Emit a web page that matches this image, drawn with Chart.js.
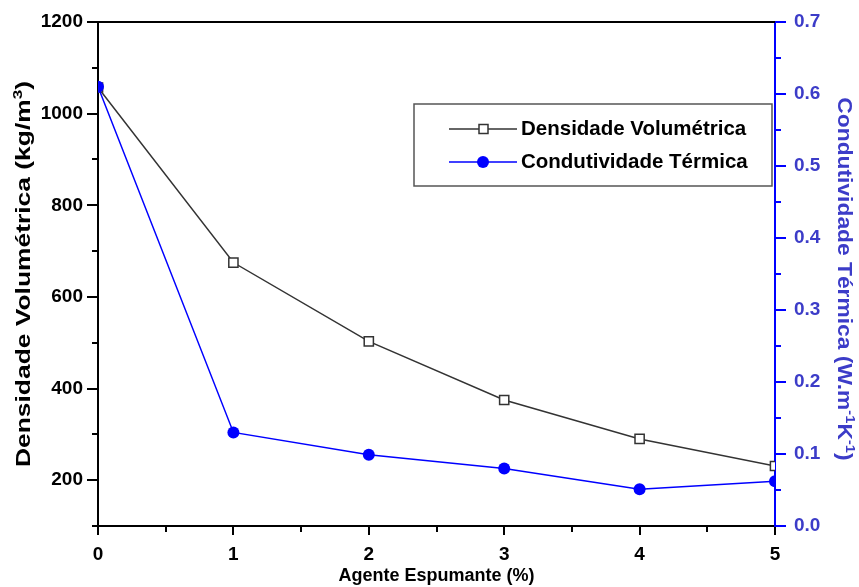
<!DOCTYPE html>
<html>
<head>
<meta charset="utf-8">
<title>Densidade e Condutividade</title>
<script src="https://cdn.jsdelivr.net/npm/chart.js@4/dist/chart.umd.min.js"></script>
<style>
  html, body { margin: 0; padding: 0; background: #fff; }
  canvas { display: block; }
</style>
</head>
<body>
<canvas id="c" width="859" height="587"></canvas>
<script>
// Foaming agent content (%)
const agente = [0, 1, 2, 3, 4, 5];
// Bulk density (kg/m³)
const densidade = [1057, 675, 503, 375, 290, 231];
// Thermal conductivity (W.m-1K-1)
const condutividade = [0.61, 0.13, 0.099, 0.08, 0.051, 0.062];

// Axis tick labels
const xTicks = [0, 1, 2, 3, 4, 5];
const yLeftTicks = [200, 400, 600, 800, 1000, 1200];
const yRightTicks = [0.0, 0.1, 0.2, 0.3, 0.4, 0.5, 0.6, 0.7];

// Vertical axis titles as [text, isSuperscript] runs
const yLeftTitle = [['Densidade Volumétrica (kg/m', 0], ['3', 1], [')', 0]];
const yRightTitle = [['Condutividade Térmica (W.m', 0], ['-1', 1], ['K', 0], ['-1', 1], [')', 0]];

const FONT = 'Arial, "Liberation Sans", sans-serif';
const BLUE = '#0000ff';
const BLUE_TEXT = '#3c3cc8';

const midpoints = arr => arr.slice(1).map((v, i) => (v + arr[i]) / 2);
const runsText = runs => runs.map(r => r[0]).join('');

// Minor ticks between the labelled ones, plus a frame line on top
const minorTicks = {
  id: 'minorTicks',
  afterDraw(chart) {
    const ctx = chart.ctx;
    const a = chart.chartArea;
    ctx.save();
    ctx.lineWidth = 2;
    ctx.strokeStyle = '#000';
    ctx.beginPath();
    ctx.moveTo(a.left - 1, a.top);
    ctx.lineTo(a.right, a.top);
    ctx.stroke();
    const xs = chart.scales.x;
    midpoints(xTicks).forEach(v => {
      const p = Math.round(xs.getPixelForValue(v));
      ctx.beginPath(); ctx.moveTo(p, a.bottom); ctx.lineTo(p, a.bottom + 6); ctx.stroke();
    });
    const yl = chart.scales.y;
    [100].concat(midpoints(yLeftTicks)).forEach(v => {
      const p = Math.round(yl.getPixelForValue(v));
      ctx.beginPath(); ctx.moveTo(a.left, p); ctx.lineTo(a.left - 6, p); ctx.stroke();
    });
    ctx.strokeStyle = BLUE;
    const yr = chart.scales.y2;
    midpoints(yRightTicks).forEach(v => {
      const p = Math.round(yr.getPixelForValue(v));
      ctx.beginPath(); ctx.moveTo(a.right, p); ctx.lineTo(a.right + 6, p); ctx.stroke();
    });
    ctx.restore();
  }
};

// Rotated axis titles with real superscripts, drawn tall along the axis
function drawRuns(ctx, runs, size, stretch, color) {
  const big = 'bold ' + size + 'px ' + FONT;
  const small = 'bold ' + Math.round(size * 0.65) + 'px ' + FONT;
  let total = 0;
  runs.forEach(r => { ctx.font = r[1] ? small : big; total += ctx.measureText(r[0]).width; });
  ctx.scale(stretch, 1);
  ctx.fillStyle = color;
  ctx.textBaseline = 'alphabetic';
  ctx.textAlign = 'left';
  let x = -total / 2;
  const base = size * 0.36;
  runs.forEach(r => {
    ctx.font = r[1] ? small : big;
    ctx.fillText(r[0], x, r[1] ? base - size * 0.42 : base);
    x += ctx.measureText(r[0]).width;
  });
}

const axisTitles = {
  id: 'axisTitles',
  afterDraw(chart) {
    const ctx = chart.ctx;
    const a = chart.chartArea;
    const cy = (a.top + a.bottom) / 2;
    ctx.save();
    ctx.translate(23, cy);
    ctx.rotate(-Math.PI / 2);
    drawRuns(ctx, yLeftTitle, 20, 1.32, '#000');
    ctx.restore();
    ctx.save();
    ctx.translate(845, cy + 5);
    ctx.rotate(Math.PI / 2);
    drawRuns(ctx, yRightTitle, 20, 1.14, BLUE_TEXT);
    ctx.restore();
  }
};

// Boxed legend with line + marker samples
const boxLegend = {
  id: 'boxLegend',
  afterDraw(chart) {
    const ctx = chart.ctx;
    const ds = chart.data.datasets;
    const box = { x: 414, y: 104, w: 358, h: 82 };
    ctx.save();
    ctx.fillStyle = '#fff';
    ctx.fillRect(box.x, box.y, box.w, box.h);
    ctx.strokeStyle = '#555';
    ctx.lineWidth = 1.5;
    ctx.strokeRect(box.x, box.y, box.w, box.h);
    const rowY = [129, 162];
    ds.forEach((d, i) => {
      const y = rowY[i];
      ctx.strokeStyle = d.borderColor;
      ctx.lineWidth = 1.5;
      ctx.beginPath(); ctx.moveTo(449, y); ctx.lineTo(517, y); ctx.stroke();
      if (d.pointStyle === 'rect') {
        ctx.fillStyle = '#fff';
        ctx.fillRect(479, y - 4.5, 9, 9);
        ctx.strokeStyle = '#333';
        ctx.strokeRect(479, y - 4.5, 9, 9);
      } else {
        ctx.fillStyle = BLUE;
        ctx.beginPath(); ctx.arc(483, y, 6, 0, Math.PI * 2); ctx.fill();
      }
      ctx.fillStyle = '#000';
      ctx.font = 'bold 20.5px ' + FONT;
      ctx.textBaseline = 'middle';
      ctx.textAlign = 'left';
      ctx.fillText(d.label, 521, y);
    });
    ctx.restore();
  }
};

const setTicks = values => scale => { scale.ticks = values.map(v => ({ value: v })); };

new Chart(document.getElementById('c'), {
  type: 'line',
  data: {
    datasets: [
      {
        label: 'Densidade Volumétrica',
        data: agente.map((x, i) => ({ x: x, y: densidade[i] })),
        yAxisID: 'y',
        borderColor: '#333',
        borderWidth: 1.5,
        pointStyle: 'rect',
        pointRadius: 6.5,
        pointBackgroundColor: '#fff',
        pointBorderColor: '#333',
        pointBorderWidth: 1.5,
        tension: 0,
        clip: { left: 0, right: 0, top: false, bottom: false },
        order: 1
      },
      {
        label: 'Condutividade Térmica',
        data: agente.map((x, i) => ({ x: x, y: condutividade[i] })),
        yAxisID: 'y2',
        borderColor: BLUE,
        borderWidth: 1.5,
        pointStyle: 'circle',
        pointRadius: 6,
        pointBackgroundColor: BLUE,
        pointBorderColor: BLUE,
        pointBorderWidth: 0,
        tension: 0,
        clip: { left: 0, right: 0, top: false, bottom: false },
        order: 0
      }
    ]
  },
  options: {
    responsive: false,
    animation: false,
    devicePixelRatio: 1,
    layout: { padding: { top: 22, left: 0, right: 0, bottom: 0 } },
    plugins: { legend: { display: false }, tooltip: { enabled: false } },
    scales: {
      x: {
        type: 'linear',
        position: 'bottom',
        min: 0, max: 5,
        afterBuildTicks: setTicks(xTicks),
        afterFit: s => { s.height = 61; },
        grid: { display: true, drawOnChartArea: false, drawTicks: true, tickLength: 9, color: '#000', lineWidth: 2 },
        border: { display: true, color: '#000', width: 2 },
        ticks: { color: '#000', font: { family: FONT, size: 19, weight: 'bold' }, padding: 8, maxRotation: 0 },
        title: { display: true, text: 'Agente Espumante (%)', color: '#000', font: { family: FONT, size: 18, weight: 'bold' }, padding: { top: 0, bottom: 0 } },
        z: 1
      },
      y: {
        type: 'linear',
        position: 'left',
        min: 100, max: 1200,
        afterBuildTicks: setTicks(yLeftTicks),
        afterFit: s => { s.width = 98; },
        grid: { display: true, drawOnChartArea: false, drawTicks: true, tickLength: 11, color: '#000', lineWidth: 2 },
        border: { display: true, color: '#000', width: 2 },
        ticks: { color: '#000', font: { family: FONT, size: 19, weight: 'bold' }, padding: 4, callback: v => String(v) },
        title: { display: false, text: runsText(yLeftTitle) },
        z: 1
      },
      y2: {
        type: 'linear',
        position: 'right',
        min: 0, max: 0.7,
        afterBuildTicks: setTicks(yRightTicks),
        afterFit: s => { s.width = 84; },
        grid: { display: true, drawOnChartArea: false, drawTicks: true, tickLength: 11, color: BLUE, lineWidth: 2 },
        border: { display: true, color: BLUE, width: 2 },
        ticks: { color: BLUE_TEXT, font: { family: FONT, size: 19, weight: 'bold' }, padding: 8, callback: v => v.toFixed(1) },
        title: { display: false, text: runsText(yRightTitle) },
        z: 1
      }
    }
  },
  plugins: [minorTicks, axisTitles, boxLegend]
});
</script>
</body>
</html>
